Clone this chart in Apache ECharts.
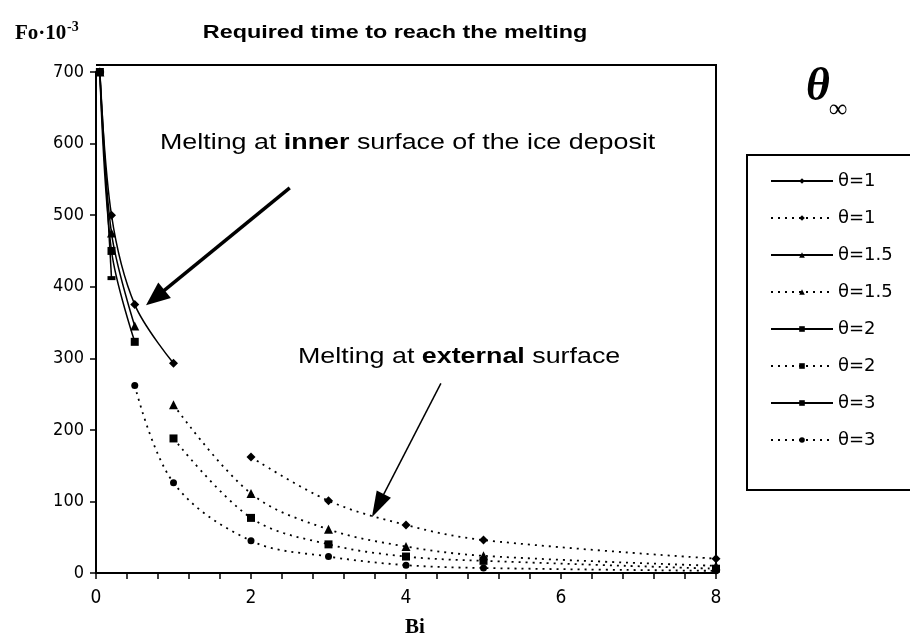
<!DOCTYPE html>
<html>
<head>
<meta charset="utf-8">
<script src="https://cdn.jsdelivr.net/npm/echarts@6/dist/echarts.min.js"></script>
<style>
  html, body { margin: 0; padding: 0; background: #fff; }
  #chart { width: 910px; height: 637px; }
</style>
</head>
<body>
<div id="chart"></div>
<script>
// Melting at the inner surface of the ice deposit (solid curves): Bi vs Fo·10^-3
const innerBi1  = [0.05, 0.2, 0.5, 1];
const innerFo1  = [700, 500, 375, 293];
const innerBi15 = [0.05, 0.2, 0.5];
const innerFo15 = [700, 475, 345];
const innerBi2  = [0.05, 0.2, 0.5];
const innerFo2  = [700, 450, 323];
const innerBi3  = [0.05, 0.2];
const innerFo3  = [700, 412];

// Melting at the external surface (dotted curves)
const extBi1  = [2, 3, 4, 5, 8];
const extFo1  = [162, 101, 67, 46, 20];
const extBi15 = [1, 2, 3, 4, 5, 8];
const extFo15 = [235, 111, 61, 37, 24, 10];
const extBi2  = [1, 2, 3, 4, 5, 8];
const extFo2  = [188, 77, 40, 23, 17, 6];
const extBi3  = [0.5, 1, 2, 3, 4, 5, 8];
const extFo3  = [262, 126, 45, 23, 11, 7, 3];

// Axis ticks
const xTicks = [0, 2, 4, 6, 8];
const yTicks = [0, 100, 200, 300, 400, 500, 600, 700];

// Legend labels (one per series, in drawing order)
const legendLabels = ['θ=1', 'θ=1', 'θ=1.5', 'θ=1.5', 'θ=2', 'θ=2', 'θ=3', 'θ=3'];

const pair = (xs, ys) => xs.map((x, i) => [x, ys[i]]);

const solid = { type: 'solid', width: 1.5, color: '#000' };
const dotted = { type: [2, 5], width: 1.8, color: '#000' };

const curves = [
  { xs: innerBi1,  ys: innerFo1,  line: solid,  symbol: 'diamond', size: 9 },
  { xs: extBi1,    ys: extFo1,    line: dotted, symbol: 'diamond', size: 9 },
  { xs: innerBi15, ys: innerFo15, line: solid,  symbol: 'triangle', size: 9 },
  { xs: extBi15,   ys: extFo15,   line: dotted, symbol: 'triangle', size: 9 },
  { xs: innerBi2,  ys: innerFo2,  line: solid,  symbol: 'rect', size: 8 },
  { xs: extBi2,    ys: extFo2,    line: dotted, symbol: 'rect', size: 8 },
  { xs: innerBi3,  ys: innerFo3,  line: solid,  symbol: 'rect', size: [8, 4] },
  { xs: extBi3,    ys: extFo3,    line: dotted, symbol: 'circle', size: 7 }
];

const seriesNames = legendLabels.map((l, i) => l + '#' + i);

const series = curves.map((c, i) => ({
  type: 'line',
  name: seriesNames[i],
  data: pair(c.xs, c.ys),
  smooth: 0.35,
  symbol: c.symbol,
  symbolSize: c.size,
  showAllSymbol: true,
  lineStyle: c.line,
  itemStyle: { color: '#000' },
  emphasis: { disabled: true },
  animation: false,
  z: 3
}));

const tickFont = "'DejaVu Sans Condensed', 'Liberation Sans', sans-serif";
const sansFont = "'Liberation Sans', Arial, sans-serif";
const legendFont = "'DejaVu Sans', 'Liberation Sans', sans-serif";
const serifFont = "'Liberation Serif', 'DejaVu Serif', serif";

const chart = echarts.init(document.getElementById('chart'), null, { renderer: 'canvas' });

chart.setOption({
  backgroundColor: '#fff',
  animation: false,
  grid: { left: 96, right: 194, top: 72, bottom: 64 },
  xAxis: {
    type: 'value',
    min: xTicks[0],
    max: xTicks[xTicks.length - 1],
    interval: xTicks[1] - xTicks[0],
    axisLine: { lineStyle: { color: '#000', width: 2 } },
    axisTick: { show: true, length: 6, inside: false, lineStyle: { color: '#000', width: 1.5 } },
    minorTick: { show: true, splitNumber: 5, length: 6, lineStyle: { color: '#000', width: 1.5 } },
    splitLine: { show: false },
    axisLabel: { color: '#000', fontFamily: tickFont, fontSize: 19, margin: 16 }
  },
  yAxis: {
    type: 'value',
    min: yTicks[0],
    max: yTicks[yTicks.length - 1],
    interval: yTicks[1] - yTicks[0],
    axisLine: { show: true, lineStyle: { color: '#000', width: 2 } },
    axisTick: { show: true, length: 6, lineStyle: { color: '#000', width: 1.5 } },
    splitLine: { show: false },
    axisLabel: { color: '#000', fontFamily: tickFont, fontSize: 18, margin: 12 }
  },
  legend: {
    orient: 'vertical',
    left: 770,
    top: 172,
    itemWidth: 62,
    itemHeight: 7,
    itemGap: 19,
    padding: 0,
    selectedMode: false,
    data: seriesNames,
    formatter: name => name.split('#')[0],
    textStyle: { color: '#000', fontFamily: legendFont, fontSize: 18 }
  },
  series: series
});

// Annotation arrows, anchored in data coordinates
const arrowSpecs = [
  { from: [2.5, 538], to: [0.645, 374], width: 3.5, headLen: 24, headHalf: 10 },
  { from: [4.45, 265], to: [3.56, 78], width: 1.5, headLen: 26, headHalf: 8 }
];

function arrowGraphics(spec) {
  const p0 = chart.convertToPixel({ gridIndex: 0 }, spec.from);
  const p1 = chart.convertToPixel({ gridIndex: 0 }, spec.to);
  const dx = p1[0] - p0[0], dy = p1[1] - p0[1];
  const len = Math.sqrt(dx * dx + dy * dy);
  const ux = dx / len, uy = dy / len;
  const bx = p1[0] - ux * spec.headLen, by = p1[1] - uy * spec.headLen;
  const nx = -uy, ny = ux;
  return [
    {
      type: 'line',
      shape: { x1: p0[0], y1: p0[1], x2: bx + ux * 2, y2: by + uy * 2 },
      style: { stroke: '#000', lineWidth: spec.width },
      z: 10
    },
    {
      type: 'polygon',
      shape: { points: [
        [p1[0], p1[1]],
        [bx + nx * spec.headHalf, by + ny * spec.headHalf],
        [bx - nx * spec.headHalf, by - ny * spec.headHalf]
      ] },
      style: { fill: '#000' },
      z: 10
    }
  ];
}

const graphics = [
  // plot frame (top and right edges)
  {
    type: 'polyline',
    shape: { points: [[96, 65], [716, 65], [716, 573]] },
    style: { stroke: '#000', lineWidth: 2, fill: null },
    z: 1
  },
  // legend box
  {
    type: 'rect',
    shape: { x: 747, y: 155, width: 200, height: 335 },
    style: { stroke: '#000', lineWidth: 2, fill: null },
    z: 1
  },
  // title
  {
    type: 'text',
    x: 395, y: 33,
    scaleX: 1.23,
    style: {
      text: 'Required time to reach the melting',
      fill: '#000', font: "bold 19px " + sansFont,
      textAlign: 'center', textVerticalAlign: 'middle'
    }
  },
  // y axis name
  {
    type: 'text',
    x: 15, y: 34,
    style: { text: 'Fo·10', fill: '#000', font: "bold 21px " + serifFont, textAlign: 'left', textVerticalAlign: 'middle' }
  },
  {
    type: 'text',
    x: 67, y: 27,
    style: { text: '-3', fill: '#000', font: "bold 14px " + serifFont, textAlign: 'left', textVerticalAlign: 'middle' }
  },
  // x axis name
  {
    type: 'text',
    x: 415, y: 628,
    style: { text: 'Bi', fill: '#000', font: "bold 21px " + serifFont, textAlign: 'center', textVerticalAlign: 'middle' }
  },
  // legend heading θ∞
  {
    type: 'text',
    x: 818, y: 88,
    style: { text: 'θ', fill: '#000', font: "italic bold 46px " + serifFont, textAlign: 'center', textVerticalAlign: 'middle' }
  },
  {
    type: 'text',
    x: 838, y: 110,
    style: { text: '∞', fill: '#000', font: "26px " + serifFont, textAlign: 'center', textVerticalAlign: 'middle' }
  },
  // annotations
  {
    type: 'text',
    x: 160, y: 143,
    scaleX: 1.22,
    style: {
      text: 'Melting at {b|inner} surface of the ice deposit',
      fill: '#000', font: "22px " + sansFont,
      textAlign: 'left', textVerticalAlign: 'middle',
      rich: { b: { font: "bold 22px " + sansFont, fill: '#000' } }
    }
  },
  {
    type: 'text',
    x: 298, y: 357,
    scaleX: 1.22,
    style: {
      text: 'Melting at {b|external} surface',
      fill: '#000', font: "22px " + sansFont,
      textAlign: 'left', textVerticalAlign: 'middle',
      rich: { b: { font: "bold 22px " + sansFont, fill: '#000' } }
    }
  }
];

arrowSpecs.forEach(s => arrowGraphics(s).forEach(g => graphics.push(g)));

chart.setOption({ graphic: graphics });
</script>
</body>
</html>
